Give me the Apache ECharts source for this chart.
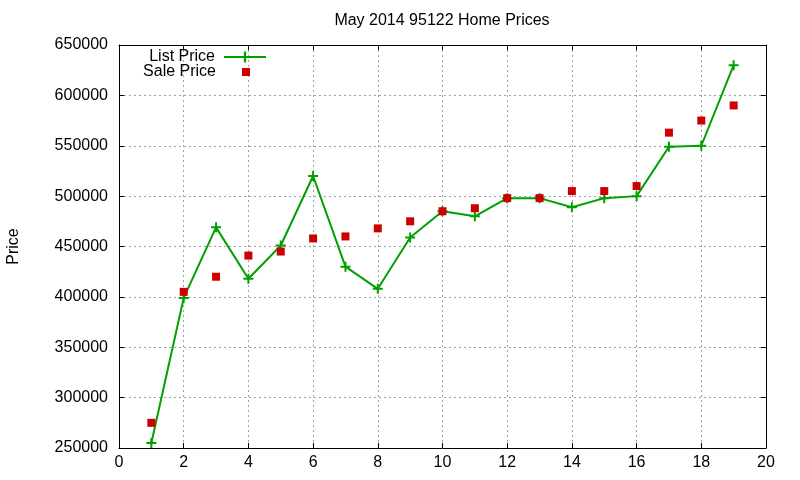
<!DOCTYPE html>
<html>
<head>
<meta charset="utf-8">
<script src="https://cdn.jsdelivr.net/npm/echarts@6/dist/echarts.min.js"></script>
<style>
html,body{margin:0;padding:0;background:#fff;}
#chart{width:800px;height:480px;}
</style>
</head>
<body>
<div id="chart"></div>
<script>
var xValues = [1,2,3,4,5,6,7,8,9,10,11,12,13,14,15,16,17,18,19];
var listPrice = [255000,399000,469000,418000,451000,520000,430000,408000,459000,485000,480000,498000,498000,489000,498000,500000,549000,550000,630000];
var salePrice = [275000,405000,420000,441000,445000,458000,460000,468000,475000,485000,488000,498000,498000,505000,505000,510000,563000,575000,590000];
var titleText = 'May 2014 95122 Home Prices';
var yName = 'Price';

function pairs(xs, ys){ return xs.map(function(x,i){ return [x, ys[i]]; }); }

var FONT = 'Liberation Sans, Arial, sans-serif';
var gridLine = {show:true, lineStyle:{color:'#a0a0a0', type:[2,3], width:1}};
var plus = 'path://M4,0H6V4H10V6H6V10H4V6H0V4H4Z';

var chart = echarts.init(document.getElementById('chart'), null, {renderer:'canvas'});
chart.setOption({
  animation:false,
  backgroundColor:'#ffffff',
  title:{text:titleText, left:442, textAlign:'center', top:13, itemGap:0, padding:0,
    textStyle:{fontFamily:FONT, fontSize:16, fontWeight:'normal', color:'#000'}},
  legend:[
    {data:['List Price'], orient:'vertical', align:'right', right:533, top:49, padding:0,
     itemWidth:42, itemHeight:14,
     textStyle:{fontFamily:FONT, fontSize:16, color:'#000', padding:[0,4,0,0]}},
    {data:['Sale Price'], orient:'vertical', align:'right', right:550, top:64, padding:0,
     icon:'rect', itemWidth:8, itemHeight:8,
     textStyle:{fontFamily:FONT, fontSize:16, color:'#000', padding:[0,21,0,0]}}
  ],
  grid:{left:119, right:34, top:45, bottom:32, containLabel:false, outerBoundsMode:'none'},
  xAxis:[
    {type:'value', min:0, max:20, interval:2, position:'bottom',
     axisLine:{show:true, onZero:false, lineStyle:{color:'#000', width:1}},
     axisTick:{show:true, inside:true, length:5, lineStyle:{color:'#000'}},
     axisLabel:{fontFamily:FONT, fontSize:16, color:'#000', margin:7},
     splitLine:gridLine},
    {type:'value', min:0, max:20, interval:2, position:'top',
     axisLine:{show:true, onZero:false, lineStyle:{color:'#000', width:1}},
     axisTick:{show:true, inside:true, length:5, lineStyle:{color:'#000'}},
     axisLabel:{show:false}, splitLine:{show:false}}
  ],
  yAxis:[
    {type:'value', min:250000, max:650000, interval:50000, position:'left',
     name:yName, nameLocation:'middle', nameGap:97, nameRotate:90,
     nameTextStyle:{fontFamily:FONT, fontSize:16, color:'#000'},
     axisLine:{show:true, onZero:false, lineStyle:{color:'#000', width:1}},
     axisTick:{show:true, inside:true, length:5, lineStyle:{color:'#000'}},
     axisLabel:{fontFamily:FONT, fontSize:16, color:'#000', margin:11,
       formatter:function(v){ return String(v); }},
     splitLine:gridLine},
    {type:'value', min:250000, max:650000, interval:50000, position:'right',
     axisLine:{show:true, onZero:false, lineStyle:{color:'#000', width:1}},
     axisTick:{show:true, inside:true, length:5, lineStyle:{color:'#000'}},
     axisLabel:{show:false}, splitLine:{show:false}}
  ],
  series:[
    {name:'List Price', type:'line', xAxisIndex:0, yAxisIndex:0,
     data:pairs(xValues, listPrice),
     symbol:plus, symbolSize:10, showAllSymbol:true,
     lineStyle:{color:'#00a000', width:2},
     itemStyle:{color:'#00a000'}, z:2},
    {name:'Sale Price', type:'scatter', xAxisIndex:0, yAxisIndex:0,
     data:pairs(xValues, salePrice),
     symbol:'rect', symbolSize:8,
     itemStyle:{color:'#cc0000', opacity:1}, z:3}
  ]
});
</script>
</body>
</html>
